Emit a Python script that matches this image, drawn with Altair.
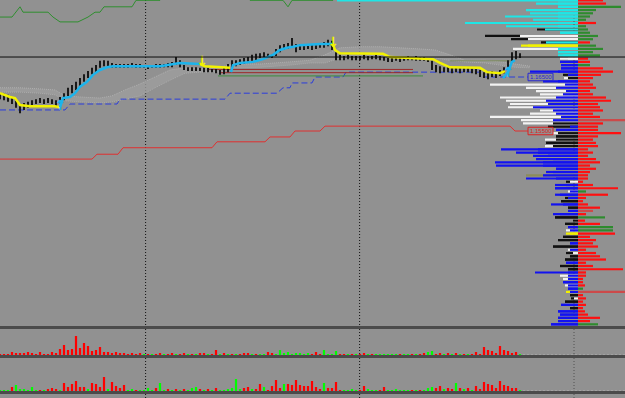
import altair as alt
import pandas as pd

# ---------------- data ----------------
P_TOP, P_BOT = 1.1792593, 1.1188889
X_DOM = [0, 156.25]

candle_high = [
    1.1620, 1.1619, 1.1617, 1.1611, 1.1606, 1.1600, 1.1602, 1.1604, 1.1607, 1.1609,
    1.1611, 1.1609, 1.1611, 1.1609, 1.1607, 1.1613, 1.1620, 1.1630, 1.1635, 1.1641,
    1.1648, 1.1655, 1.1661, 1.1667, 1.1672, 1.1680, 1.1681, 1.1680, 1.1676, 1.1674,
    1.1674, 1.1674, 1.1674, 1.1676, 1.1674, 1.1674, 1.1672, 1.1672, 1.1672, 1.1674,
    1.1674, 1.1674, 1.1676, 1.1678, 1.1687, 1.1681, 1.1672, 1.1668, 1.1668, 1.1668,
    1.1667, 1.1667, 1.1667, 1.1665, 1.1665, 1.1663, 1.1667, 1.1674, 1.1681, 1.1681,
    1.1683, 1.1685, 1.1687, 1.1691, 1.1693, 1.1694, 1.1696, 1.1693, 1.1691, 1.1702,
    1.1709, 1.1711, 1.1713, 1.1722, 1.1711, 1.1711, 1.1709, 1.1711, 1.1711, 1.1709,
    1.1713, 1.1715, 1.1719, 1.1717, 1.1696, 1.1691, 1.1689, 1.1691, 1.1689, 1.1689,
    1.1689, 1.1691, 1.1689, 1.1689, 1.1691, 1.1689, 1.1687, 1.1685, 1.1685, 1.1687,
    1.1687, 1.1687, 1.1689, 1.1687, 1.1689, 1.1687, 1.1687, 1.1685, 1.1680, 1.1672,
    1.1670, 1.1668, 1.1670, 1.1667, 1.1668, 1.1667, 1.1667, 1.1668, 1.1667, 1.1665,
    1.1663, 1.1659, 1.1659, 1.1661, 1.1659, 1.1663, 1.1668, 1.1681, 1.1696, 1.1698,
    1.1694]
candle_low = [
    1.1609, 1.1607, 1.1604, 1.1600, 1.1593, 1.1583, 1.1589, 1.1593, 1.1598, 1.1600,
    1.1602, 1.1600, 1.1602, 1.1600, 1.1596, 1.1600, 1.1607, 1.1615, 1.1620, 1.1626,
    1.1633, 1.1641, 1.1648, 1.1655, 1.1659, 1.1667, 1.1670, 1.1668, 1.1667, 1.1667,
    1.1667, 1.1667, 1.1667, 1.1668, 1.1667, 1.1667, 1.1667, 1.1665, 1.1667, 1.1667,
    1.1667, 1.1668, 1.1668, 1.1668, 1.1672, 1.1668, 1.1663, 1.1661, 1.1661, 1.1661,
    1.1661, 1.1659, 1.1659, 1.1659, 1.1657, 1.1654, 1.1655, 1.1659, 1.1667, 1.1670,
    1.1672, 1.1674, 1.1676, 1.1680, 1.1681, 1.1685, 1.1687, 1.1685, 1.1685, 1.1689,
    1.1696, 1.1700, 1.1702, 1.1706, 1.1696, 1.1700, 1.1700, 1.1702, 1.1700, 1.1702,
    1.1704, 1.1704, 1.1707, 1.1700, 1.1681, 1.1681, 1.1681, 1.1683, 1.1681, 1.1681,
    1.1681, 1.1683, 1.1681, 1.1683, 1.1683, 1.1681, 1.1680, 1.1678, 1.1678, 1.1680,
    1.1678, 1.1680, 1.1681, 1.1681, 1.1680, 1.1680, 1.1680, 1.1678, 1.1663, 1.1659,
    1.1657, 1.1659, 1.1659, 1.1657, 1.1659, 1.1657, 1.1659, 1.1659, 1.1657, 1.1655,
    1.1650, 1.1648, 1.1646, 1.1650, 1.1648, 1.1652, 1.1657, 1.1663, 1.1678, 1.1683,
    1.1685]

# trailing stop (yellow = short, cyan = long)
trail_bar = [0, 2.5, 3.75, 5, 7.5, 13.75, 15,
             15, 15.75, 17.5, 18.75, 20, 21.75, 23.25, 25, 26.75, 28.25, 40, 45, 50,
             50, 51.25, 57.5,
             57.75, 58.25, 60, 63.25, 65.75, 68.25, 70, 71.75, 73.25, 75, 80, 83.25,
             83.25, 83.75, 85, 95.75, 97.5, 102.5, 108.25, 110, 112.5, 120, 121.75, 125, 126.25,
             125.75, 127, 128, 128.75]
trail_price = [1.1620, 1.1613, 1.1611, 1.1598, 1.1596, 1.1596, 1.1594,
               1.1594, 1.1611, 1.1613, 1.1620, 1.1632, 1.1641, 1.1654, 1.1663, 1.1668, 1.1670, 1.1670, 1.1676, 1.1674,
               1.1674, 1.1670, 1.1667,
               1.1659, 1.1672, 1.1676, 1.1678, 1.1683, 1.1691, 1.1700, 1.1704, 1.1706, 1.1709, 1.1711, 1.1711,
               1.1711, 1.1700, 1.1694, 1.1693, 1.1687, 1.1685, 1.1683, 1.1676, 1.1668, 1.1667, 1.1659, 1.1657, 1.1661,
               1.1648, 1.1659, 1.1678, 1.1681]
trail_seg = [0] * 7 + [1] * 13 + [2] * 3 + [3] * 12 + [4] * 13 + [5] * 4
seg_colors = ["#F2F200", "#1CB4EC", "#F2F200", "#1CB4EC", "#F2F200", "#1CB4EC"]

arrow_bar = [15, 50.5, 83.25, 127]
arrow_price = [1.1596, 1.1678, 1.1713, 1.1657]
arrow_sym = ["↑", "↓", "↓", "↑"]
arrow_col = ["#1CB4EC", "#F2F200", "#F2F200", "#1CB4EC"]

# cloud band
cloud_bar = [0, 5, 10, 13.75, 16.25, 20, 25, 28, 31.25, 35, 38.75, 42.5, 46.25, 50, 55,
             58.75, 65, 72.5, 77.5, 81.25, 85, 90, 95, 100, 105, 108.75, 112.5, 116.25,
             121.25, 125, 128.75, 132.5]
cloud_hi = [1.1630, 1.1630, 1.1628, 1.1626, 1.1615, 1.1613, 1.1611, 1.1615, 1.1626, 1.1637,
            1.1650, 1.1663, 1.1667, 1.1665, 1.1668, 1.1674, 1.1674, 1.1678, 1.1681, 1.1691,
            1.1704, 1.1706, 1.1706, 1.1704, 1.1702, 1.1700, 1.1691, 1.1681, 1.1681, 1.1678,
            1.1674, 1.1670]
cloud_lo = [1.1622, 1.1622, 1.1620, 1.1617, 1.1606, 1.1604, 1.1602, 1.1604, 1.1609, 1.1615,
            1.1630, 1.1644, 1.1657, 1.1659, 1.1659, 1.1667, 1.1668, 1.1672, 1.1676, 1.1676,
            1.1685, 1.1687, 1.1689, 1.1687, 1.1687, 1.1685, 1.1681, 1.1678, 1.1676, 1.1672,
            1.1668, 1.1667]

# upper channel (green)
green_bar = [0, 3, 5, 5.75, 12, 13.25, 15, 19.5, 22, 23.75, 25, 26, 33, 34, 40, 41, 61.25,
             62.5, 70.75, 72, 73, 83.25, 84.25, 130]
green_price = [1.1761, 1.1761, 1.1780, 1.1770, 1.1770, 1.1761, 1.1752, 1.1752, 1.1761, 1.1770,
               1.1770, 1.1780, 1.1780, 1.1792, 1.1792, 1.1802, 1.1802, 1.1792, 1.1792, 1.1780,
               1.1792, 1.1792, 1.1802, 1.1802]
# lower channel (blue dashed)
blue_bar = [0, 16.25, 17.5, 29.25, 30, 56.25, 57.5, 69.25, 70.75, 72.5, 73, 78, 78.75, 85.75,
            86.5, 120, 121.25, 132]
blue_price = [1.1589, 1.1589, 1.1600, 1.1600, 1.1609, 1.1609, 1.1620, 1.1620, 1.1630, 1.1630,
              1.1639, 1.1639, 1.1650, 1.1650, 1.1659, 1.1659, 1.1650, 1.1650]
# red stepped line
red_bar = [0, 23, 24.25, 29.5, 30.75, 53, 54.25, 66.25, 67.5, 72.5, 73.75, 80, 81.25, 127.5,
           128.75, 132]
red_price = [1.1498, 1.1498, 1.1507, 1.1507, 1.1519, 1.1519, 1.1530, 1.1530, 1.1539, 1.1539,
             1.1550, 1.1550, 1.1559, 1.1559, 1.1550, 1.1550]

# horizontal levels
hl_start = [51.75, 55, 54.5, 112.5]
hl_end = [103.25, 103.25, 105.75, 128.25]
hl_price = [1.1664, 1.1658, 1.1652, 1.1680]
hl_col = ["#9C2A2A", "#9C2A2A", "#3C8C3C", "#7E8C5E"]
black_level = [1.1687]

# session separators
sep_bar = [36.4, 89.9, 143.5]
sep_col = ["#111111", "#111111", "#505050"]

label_bar = [132, 132]
label_price = [1.1650, 1.1550]
label_text = ["1.16500", "1.15500"]
label_col = ["#2828D0", "#E02020"]

# volume profile (levels every 0.0006 from 1.1792 downward)
prof_top, prof_step, prof_n = 1.1792, 0.0006, 101
outer_len = [241, 42, 20, 52, 48, 73, 45, 113, 72, 41,
             18, 93, 67, 37, 57, 65, 20, 20, 18, 18,
             17, 17, 48, 15, 14, 35, 88, 52, 42, 38,
             78, 72, 68, 70, 38, 48, 88, 57, 55, 30,
             22, 25, 22, 33, 32, 33, 77, 62, 45, 42,
             83, 82, 22, 32, 52, 52, 12, 23, 23, 10,
             23, 13, 17, 27, 10, 10, 25, 23, 5, 13,
             10, 12, 12, 15, 20, 8, 25, 10, 12, 8,
             13, 12, 18, 10, 43, 18, 15, 15, 13, 10,
             12, 8, 7, 13, 17, 8, 20, 18, 20, 20,
             27]
outer_col = list("CCCCCCCCCK" "CKKKYWCCWB" "BBBKWBWWWW" "WWWWWWWWWK" "BWKWKWBBBB"
                 "BBBBOBKBBW" "BKKBKBBKWK" "BWYKKBKWKK" "KBKKBWWBWB" "YKKKBKBBBB" "B")
inner_len = [20, 20, 20, 20, 20, 20, 20, 20, 20, 33,
             18, 58, 50, 32, 50, 20, 20, 15, 10, 18,
             17, 17, 20, 10, 10, 20, 13, 22, 12, 15,
             22, 32, 30, 45, 25, 22, 17, 25, 25, 8,
             22, 20, 22, 22, 32, 25, 40, 40, 30, 25,
             35, 35, 22, 25, 35, 22, 8, 12, 23, 8,
             18, 10, 17, 15, 10, 10, 18, 23, 5, 13,
             10, 8, 8, 15, 20, 8, 25, 8, 5, 8,
             13, 12, 18, 10, 10, 10, 10, 15, 10, 10,
             8, 8, 4, 13, 17, 8, 20, 18, 20, 20,
             27]
inner_col = list("CCCCCCCCCC" "CWWCYCCCWB" "BBBBKBBBBB" "BBBBBBBBKB" "BKKKKKBBBB"
                 "BBBBBBWBBB" "BBKBKBBKKK" "BBYKKBKBWK" "KBKKBBBBBB" "BKWKBKBBBB" "B")
right_len = [25, 28, 43, 18, 15, 12, 8, 18, 8, 10,
             12, 20, 15, 12, 18, 25, 15, 22, 10, 12,
             12, 25, 35, 23, 15, 12, 15, 18, 12, 15,
             28, 33, 20, 22, 25, 15, 22, 47, 25, 20,
             20, 43, 20, 15, 18, 20, 10, 15, 10, 18,
             22, 12, 18, 12, 10, 10, 5, 15, 40, 8,
             30, 8, 5, 10, 22, 15, 8, 27, 7, 22,
             35, 35, 37, 12, 18, 15, 20, 8, 18, 22,
             28, 8, 15, 45, 8, 8, 5, 5, 7, 5,
             47, 5, 8, 5, 8, 5, 7, 10, 22, 12,
             20]
right_col = list("RRNNNNNRNN" "NNNRNNNNRR" "NRRRRRRRRR" "RRRRRRRDRR" "RRRRRRRRRR"
                 "RRRRRRRRRN" "RRRRRDRNRR" "NNRRRRRRRR" "RRRRRRRRRN" "DRRRRRRRRR" "N")
prof_colors = {"C": "#1EE6E6", "B": "#1212F0", "W": "#F2F2F2", "K": "#111111",
               "Y": "#F2F200", "O": "#8C8C5A", "R": "#FF1010", "N": "#2E8B2E", "D": "#CC4A4A"}

# lower panels (per bar histogram)
sub1_val = [1, 1, 1, 3, 2, 2, 2, 3, 2, 1,
            3, 1, 1, 3, 2, 6, 10, 5, 6, 19,
            7, 12, 9, 4, 5, 8, 3, 3, 2, 3,
            2, 2, 1, 2, 1, 2, 1, 1, 1, 1,
            2, 1, 1, 2, 1, 1, 2, 1, 1, 1,
            2, 2, 1, 1, 5, 1, 2, 1, 1, 1,
            1, 2, 2, 1, 1, 1, 1, 3, 2, 1,
            5, 2, 3, 1, 2, 2, 1, 2, 1, 3,
            1, 5, 1, 1, 4, 1, 1, 1, 1, 1,
            1, 2, 1, 1, 1, 1, 1, 1, 1, 1,
            1, 1, 1, 1, 1, 1, 2, 3, 4, 1,
            2, 1, 2, 1, 2, 1, 1, 1, 1, 3,
            1, 8, 5, 4, 2, 9, 5, 4, 2, 3,
            1]
sub1_dir = list("rrrrrrrrrr" "rrrrrrrrrr" "rrrrrrrrrr" "rrrrrrgrgr" "rgrrgrrgrg"
                "rrgrrgrgrg" "rrrgrggrrg" "ggggggggrr" "rggggrrgrg" "rrgrgggggg"
                "rggrgrrggr" "rgrgrgrgrr" "rrrrrrrrrr" "g")
sub2_val = [1, 1, 1, 4, 6, 2, 2, 1, 4, 1,
            1, 1, 2, 3, 2, 1, 8, 4, 7, 10,
            4, 4, 2, 8, 7, 4, 14, 2, 9, 5,
            3, 6, 1, 2, 1, 1, 1, 3, 1, 3,
            8, 1, 2, 1, 2, 1, 2, 1, 3, 4,
            2, 1, 2, 1, 3, 1, 1, 2, 3, 12,
            2, 3, 4, 2, 2, 7, 4, 1, 5, 11,
            3, 7, 7, 6, 11, 6, 5, 5, 10, 4,
            2, 8, 3, 3, 9, 1, 1, 1, 2, 1,
            1, 5, 2, 1, 1, 1, 4, 1, 1, 2,
            1, 1, 1, 1, 1, 1, 1, 3, 4, 3,
            5, 2, 3, 2, 8, 3, 2, 3, 1, 5,
            2, 9, 7, 6, 3, 10, 6, 5, 3, 3,
            1]
sub2_dir = list("gggrgggggg" "rgrrrgrrrr" "rrgrrrrgrr" "rrggrggggr" "ggrgrgrggg"
                "rgrgrggggg" "grrgrrgrrr" "rgrrrrrrrr" "rgrrrrgggg" "rrgggrrggg"
                "gggrgrgggr" "rgrrgrgrgr" "rrrrrrrrrr" "g")
dir_colors = {"r": "#FF0000", "g": "#00FF00"}

# ---------------- frames ----------------
BG, SEP = "#919191", "#4b4b4b"
W = 625

candles = pd.DataFrame({"bar": list(range(len(candle_high))), "high": candle_high, "low": candle_low})
trail = pd.DataFrame({"bar": trail_bar, "price": trail_price, "seg": trail_seg})
trail["col"] = [seg_colors[s] for s in trail_seg]
arrows = pd.DataFrame({"bar": arrow_bar, "price": arrow_price, "sym": arrow_sym, "col": arrow_col})
cloud = pd.DataFrame({"bar": cloud_bar, "hi": cloud_hi, "lo": cloud_lo})
green = pd.DataFrame({"bar": green_bar, "price": green_price})
blue = pd.DataFrame({"bar": blue_bar, "price": blue_price})
red = pd.DataFrame({"bar": red_bar, "price": red_price})
hlev = pd.DataFrame({"s": hl_start, "e": hl_end, "price": hl_price, "col": hl_col})
blk = pd.DataFrame({"price": black_level})
seps = pd.DataFrame({"bar": sep_bar, "col": sep_col})
labels = pd.DataFrame({"bar": label_bar, "price": label_price, "text": label_text, "col": label_col})

prof_price = [round(prof_top - prof_step * k, 5) for k in range(prof_n)]
rows = []
for k in range(prof_n):
    rows.append({"price": prof_price[k], "x0": -outer_len[k], "x1": 0, "col": prof_colors[outer_col[k]]})
for k in range(prof_n):
    rows.append({"price": prof_price[k], "x0": -inner_len[k], "x1": 0, "col": prof_colors[inner_col[k]]})
for k in range(prof_n):
    rows.append({"price": prof_price[k], "x0": 0, "x1": right_len[k], "col": prof_colors[right_col[k]]})
profile = pd.DataFrame(rows)

sub1 = pd.DataFrame({"bar": list(range(len(sub1_val))), "v": sub1_val,
                     "col": [dir_colors[d] for d in sub1_dir]})
sub2 = pd.DataFrame({"bar": list(range(len(sub2_val))), "v": sub2_val,
                     "col": [dir_colors[d] for d in sub2_dir]})


# ---------------- encodings ----------------
def X(f):
    return alt.X(f, type="quantitative", scale=alt.Scale(domain=X_DOM, nice=False, zero=False), axis=None)


def Y(f):
    return alt.Y(f, type="quantitative", scale=alt.Scale(domain=[P_BOT, P_TOP], nice=False, zero=False), axis=None)


NOC = alt.Color("col:N", scale=None, legend=None)

sep_layer = alt.Chart(seps).mark_rule(strokeDash=[1, 2], strokeWidth=1, clip=True).encode(x=X("bar"), color=NOC)

cloud_area = alt.Chart(cloud).mark_area(color="#9E9E9E", opacity=0.8, clip=True).encode(
    x=X("bar"), y=Y("hi"), y2="lo")
cloud_hi_l = alt.Chart(cloud).mark_line(color="#B0B0B0", strokeWidth=1, strokeDash=[1, 1], clip=True).encode(
    x=X("bar"), y=Y("hi"))
cloud_lo_l = alt.Chart(cloud).mark_line(color="#ABABAB", strokeWidth=1, strokeDash=[1, 1], clip=True).encode(
    x=X("bar"), y=Y("lo"))

green_l = alt.Chart(green).mark_line(color="#2F8F2F", strokeWidth=1, clip=True).encode(x=X("bar"), y=Y("price"))
blue_l = alt.Chart(blue).mark_line(color="#2A3CDC", strokeWidth=1, strokeDash=[6, 3], clip=True).encode(
    x=X("bar"), y=Y("price"))
red_l = alt.Chart(red).mark_line(color="#E03030", strokeWidth=1, clip=True).encode(x=X("bar"), y=Y("price"))
hlev_l = alt.Chart(hlev).mark_rule(strokeWidth=1, clip=True).encode(x=X("s"), x2="e", y=Y("price"), color=NOC)

candle_l = alt.Chart(candles).mark_rule(color="#1A1A1A", strokeWidth=2, clip=True).encode(
    x=X("bar"), y=Y("low"), y2="high")

trail_l = alt.Chart(trail).mark_line(strokeWidth=2.5, clip=True).encode(
    x=X("bar"), y=Y("price"), color=NOC, detail="seg:N", order="bar:Q")
arrow_l = alt.Chart(arrows).mark_text(fontSize=14, fontWeight="bold", font="DejaVu Sans",
                                      baseline="middle", clip=True).encode(
    x=X("bar"), y=Y("price"), text="sym:N", color=NOC)

profile_l = alt.Chart(profile).mark_rule(strokeWidth=2.2, clip=True).encode(
    x=alt.X("x0:Q", scale=alt.Scale(domain=[-578, 47], nice=False, zero=False), axis=None),
    x2="x1",
    y=Y("price"),
    color=NOC)

black_l = alt.Chart(blk).mark_rule(color="#0A0A0A", strokeWidth=1, clip=True).encode(y=Y("price"))

label_box = alt.Chart(labels).mark_point(shape="M0,-0.3H2V0.3H0Z", size=625, filled=False,
                                         strokeWidth=1, opacity=1, clip=True).encode(
    x=X("bar"), y=Y("price"), color=NOC)
label_txt = alt.Chart(labels).mark_text(align="left", baseline="middle", dx=2, fontSize=6,
                                        font="Liberation Sans", clip=True).encode(
    x=X("bar"), y=Y("price"), text="text:N", color=NOC)

main = alt.layer(
    sep_layer, cloud_area, cloud_hi_l, cloud_lo_l, green_l, red_l, blue_l, hlev_l,
    candle_l, trail_l, arrow_l, profile_l, black_l, label_box, label_txt
).resolve_scale(x="independent").properties(width=W, height=326)


def sub_panel(df, top, h):
    ys = alt.Scale(domain=[0, top], nice=False, zero=False)
    zero = alt.Chart(pd.DataFrame({"z": [0]})).mark_rule(
        color="#B4B4B4", strokeDash=[2, 2], strokeWidth=1.2, clip=True).encode(
        y=alt.Y("z:Q", scale=ys, axis=None))
    bars = alt.Chart(df).mark_rule(strokeWidth=2.2, clip=True).encode(
        x=X("bar"), y=alt.Y("v:Q", scale=ys, axis=None), y2=alt.datum(0), color=NOC)
    return alt.layer(sep_layer, zero, bars).properties(width=W, height=h)


p1 = sub_panel(sub1, 26, 26)
p2 = sub_panel(sub2, 33, 33)
foot = sep_layer.properties(width=W, height=4)

chart = alt.vconcat(main, p1, p2, foot, spacing=3).resolve_scale(
    x="independent", y="independent", color="independent"
).properties(background=SEP, padding=0).configure_view(fill=BG, strokeWidth=0)

chart.save("out.html", embed_options={"renderer": "svg", "actions": False})
